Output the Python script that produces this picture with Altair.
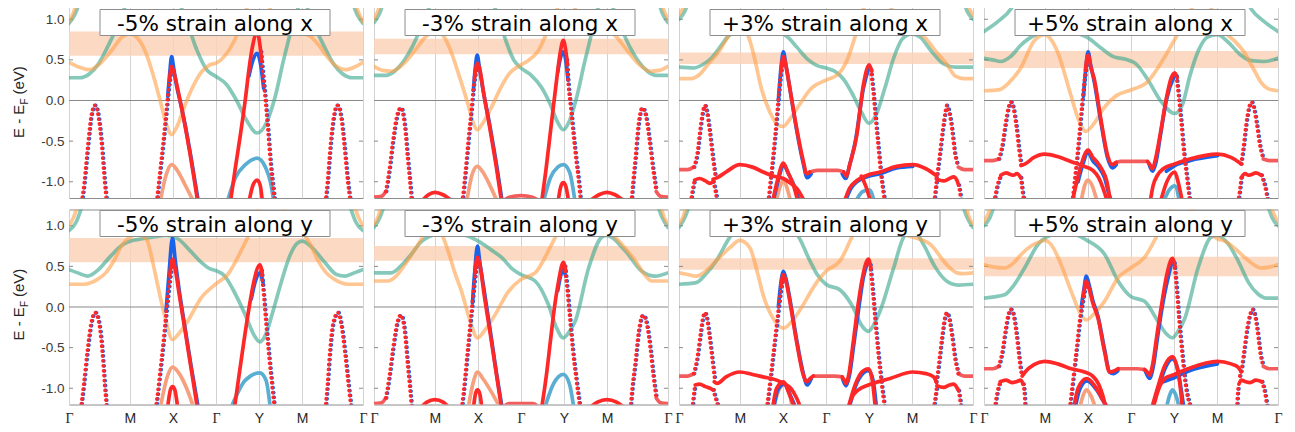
import altair as alt
import pandas as pd

# ---------------- tick labels / titles ----------------
F_TICKS = [0.0, 0.2071, 0.3536, 0.5, 0.6464, 0.7929, 1.0]
F_LABELS = ["Γ", "M", "X", "Γ", "Y", "M", "Γ"]
Y_TICKS = [-1.0, -0.5, 0.0, 0.5, 1.0]

TITLES = ["-5% strain along x", "-3% strain along x", "+3% strain along x", "+5% strain along x",
          "-5% strain along y", "-3% strain along y", "+3% strain along y", "+5% strain along y"]

BAND_LO = [0.55, 0.57, 0.45, 0.40, 0.55, 0.57, 0.46, 0.38]
BAND_HI = [0.85, 0.76, 0.59, 0.61, 0.85, 0.75, 0.60, 0.62]

# ---------------- band data: (style, [(path fraction, E - EF), ...]) ----------------
P1 = [
    ("T", [(0, 0.95), (0.02, 1.06), (0.04, 1.25)]),
    ("T", [(0.96, 1.25), (0.98, 1.06), (1.0, 0.95)]),
    ("O", [(0, 0.97), (0.015, 1.08), (0.03, 1.25)]),
    ("O", [(0.97, 1.25), (0.985, 1.08), (1.0, 0.97)]),
    ("T", [(0, 0.28), (0.035, 0.28), (0.07, 0.33), (0.10, 0.45), (0.13, 0.65), (0.16, 0.88), (0.185, 1.1), (0.20, 1.25)]),
    ("T", [(0.37, 1.25), (0.40, 0.98), (0.435, 0.62), (0.47, 0.37), (0.498, 0.30), (0.535, 0.20), (0.57, 0.0), (0.605, -0.25),
           (0.64, -0.40), (0.672, -0.27), (0.70, 0.03), (0.73, 0.50), (0.76, 0.92), (0.78, 1.15), (0.79, 1.25)]),
    ("T", [(0.80, 1.25), (0.815, 1.1), (0.84, 0.88), (0.87, 0.65), (0.90, 0.45), (0.93, 0.33), (0.965, 0.28), (1.0, 0.28)]),
    ("O", [(0, 0.47), (0.035, 0.41), (0.07, 0.38), (0.11, 0.47), (0.15, 0.64), (0.18, 0.78), (0.206, 0.82), (0.235, 0.76),
           (0.26, 0.60), (0.285, 0.33), (0.31, 0.0), (0.33, -0.28), (0.349, -0.42), (0.37, -0.30), (0.39, -0.10), (0.42, 0.16),
           (0.45, 0.35), (0.48, 0.44), (0.50, 0.46), (0.53, 0.55), (0.56, 0.72), (0.59, 0.98), (0.615, 1.25)]),
    ("O", [(0.67, 1.25), (0.70, 1.02), (0.74, 0.88), (0.793, 0.83), (0.82, 0.79), (0.85, 0.68), (0.88, 0.53), (0.91, 0.42),
           (0.94, 0.38), (0.97, 0.41), (1.0, 0.47)]),
    ("S", [(0.310, -1.25), (0.330, -0.92), (0.349, -0.79), (0.370, -0.87), (0.395, -1.04), (0.425, -1.25)]),
    ("LB", [(0.538, -1.25), (0.566, -0.95), (0.600, -0.79), (0.640, -0.71), (0.668, -0.82), (0.685, -1.0), (0.697, -1.25)]),
    ("B", [(0.336, 0.05), (0.343, 0.35), (0.349, 0.54), (0.356, 0.40), (0.365, 0.20), (0.38, -0.04), (0.395, -0.30), (0.415, -0.70), (0.44, -1.25)]),
    ("B", [(0.612, 0.30), (0.626, 0.50), (0.640, 0.58), (0.652, 0.44), (0.662, 0.15)]),
    ("R", [(0.612, -1.25), (0.626, -1.04), (0.640, -0.98), (0.650, -1.04), (0.658, -1.25)]),
    ("R", [(0.342, 0.25), (0.349, 0.42), (0.36, 0.30), (0.375, 0.05), (0.39, -0.22), (0.41, -0.62), (0.425, -0.95), (0.438, -1.25)]),
    ("R", [(0.549, -1.25), (0.565, -0.85), (0.583, -0.42), (0.60, 0.02), (0.612, 0.38), (0.625, 0.68), (0.640, 0.84), (0.648, 0.72), (0.655, 0.50)]),
    ("RD", [(0.043, -1.25), (0.052, -1.0), (0.064, -0.55), (0.075, -0.20), (0.088, -0.06), (0.100, -0.20), (0.111, -0.55), (0.121, -1.0), (0.128, -1.25)]),
    ("RD", [(0.872, -1.25), (0.879, -1.0), (0.889, -0.55), (0.900, -0.20), (0.912, -0.06), (0.925, -0.20), (0.936, -0.55), (0.948, -1.0), (0.957, -1.25)]),
    ("RD", [(0.298, -1.25), (0.310, -0.85), (0.322, -0.45), (0.333, -0.05), (0.342, 0.25), (0.349, 0.42)]),
    ("RD", [(0.652, 0.60), (0.660, 0.30), (0.668, 0.0), (0.676, -0.34), (0.686, -0.80), (0.695, -1.10), (0.700, -1.25)]),
]

P2 = [
    ("T", [(0, 0.96), (0.02, 1.08), (0.035, 1.25)]),
    ("T", [(0.965, 1.25), (0.98, 1.08), (1.0, 0.96)]),
    ("O", [(0, 1.0), (0.015, 1.12), (0.025, 1.25)]),
    ("O", [(0.975, 1.25), (0.985, 1.12), (1.0, 1.0)]),
    ("T", [(0, 0.31), (0.04, 0.31), (0.07, 0.36), (0.10, 0.48), (0.13, 0.66), (0.16, 0.90), (0.18, 1.08), (0.20, 1.25)]),
    ("T", [(0.40, 1.25), (0.425, 1.0), (0.45, 0.72), (0.475, 0.50), (0.50, 0.40), (0.535, 0.31), (0.57, 0.16), (0.60, -0.05),
           (0.625, -0.27), (0.644, -0.36), (0.665, -0.25), (0.69, 0.05), (0.715, 0.45), (0.745, 0.90), (0.77, 1.25)]),
    ("T", [(0.80, 1.25), (0.82, 1.08), (0.84, 0.90), (0.87, 0.66), (0.90, 0.48), (0.93, 0.36), (0.96, 0.31), (1.0, 0.31)]),
    ("O", [(0, 0.42), (0.03, 0.37), (0.06, 0.36), (0.10, 0.45), (0.14, 0.62), (0.18, 0.80), (0.207, 0.86), (0.235, 0.80),
           (0.26, 0.62), (0.29, 0.30), (0.32, -0.05), (0.337, -0.27), (0.351, -0.36), (0.37, -0.28), (0.40, -0.08), (0.43, 0.15),
           (0.46, 0.33), (0.49, 0.42), (0.52, 0.48), (0.56, 0.62), (0.59, 0.85), (0.62, 1.10), (0.635, 1.25)]),
    ("O", [(0.67, 1.25), (0.70, 1.02), (0.74, 0.90), (0.793, 0.86), (0.82, 0.80), (0.86, 0.62), (0.90, 0.45), (0.94, 0.36),
           (0.97, 0.37), (1.0, 0.42)]),
    ("S", [(0.315, -1.25), (0.333, -0.92), (0.351, -0.81), (0.37, -0.88), (0.395, -1.05), (0.42, -1.25)]),
    ("LB", [(0.576, -1.25), (0.60, -0.95), (0.625, -0.82), (0.644, -0.79), (0.665, -0.88), (0.684, -1.25)]),
    ("RL", [(0, -1.19), (0.025, -1.18), (0.04, -1.12)]),
    ("RL", [(0.96, -1.12), (0.975, -1.18), (1.0, -1.19)]),
    ("RL", [(0.435, -1.25), (0.46, -1.19), (0.50, -1.17), (0.54, -1.19), (0.565, -1.25)]),
    ("B", [(0.338, 0.12), (0.345, 0.42), (0.351, 0.56), (0.358, 0.42), (0.37, 0.15), (0.395, -0.33), (0.418, -0.82), (0.436, -1.25)]),
    ("B", [(0.625, 0.35), (0.636, 0.55), (0.644, 0.60), (0.652, 0.50), (0.66, 0.25)]),
    ("R", [(0.16, -1.25), (0.185, -1.16), (0.207, -1.13), (0.235, -1.16), (0.27, -1.25)]),
    ("R", [(0.729, -1.25), (0.765, -1.16), (0.792, -1.13), (0.82, -1.16), (0.855, -1.25)]),
    ("R", [(0.626, -1.25), (0.636, -1.05), (0.644, -1.01), (0.652, -1.05), (0.662, -1.25)]),
    ("R", [(0.342, 0.28), (0.351, 0.46), (0.36, 0.38), (0.372, 0.11), (0.394, -0.34), (0.417, -0.84), (0.434, -1.25)]),
    ("R", [(0.570, -1.25), (0.585, -0.85), (0.599, -0.42), (0.612, -0.02), (0.622, 0.28), (0.633, 0.58), (0.644, 0.74), (0.652, 0.62), (0.658, 0.45)]),
    ("RD", [(0.04, -1.12), (0.052, -0.85), (0.064, -0.50), (0.077, -0.20), (0.091, -0.09), (0.104, -0.30), (0.114, -0.70), (0.122, -1.0), (0.128, -1.25)]),
    ("RD", [(0.875, -1.25), (0.881, -1.0), (0.889, -0.70), (0.899, -0.30), (0.912, -0.09), (0.925, -0.20), (0.937, -0.50), (0.949, -0.85), (0.96, -1.12)]),
    ("RD", [(0.300, -1.25), (0.310, -0.90), (0.320, -0.51), (0.330, -0.15), (0.340, 0.22), (0.351, 0.46)]),
    ("RD", [(0.655, 0.50), (0.661, 0.19), (0.670, -0.12), (0.678, -0.42), (0.688, -0.75), (0.695, -0.96), (0.703, -1.25)]),
]

P3 = [
    ("T", [(0, 1.0), (0.02, 1.1), (0.035, 1.25)]),
    ("T", [(0.965, 1.25), (0.98, 1.1), (1.0, 1.0)]),
    ("O", [(0, 1.05), (0.015, 1.15), (0.025, 1.25)]),
    ("O", [(0.975, 1.25), (0.985, 1.15), (1.0, 1.05)]),
    ("T", [(0, 0.41), (0.05, 0.40), (0.08, 0.44), (0.11, 0.52), (0.14, 0.66), (0.17, 0.80), (0.207, 0.86), (0.25, 0.88),
           (0.30, 0.88), (0.34, 0.85), (0.37, 0.78), (0.40, 0.66), (0.44, 0.50), (0.47, 0.43), (0.50, 0.40), (0.53, 0.36),
           (0.56, 0.26), (0.59, 0.08), (0.62, -0.14), (0.646, -0.28), (0.67, -0.18), (0.70, 0.15), (0.73, 0.52), (0.76, 0.76),
           (0.793, 0.82), (0.82, 0.78), (0.86, 0.60), (0.90, 0.45), (0.94, 0.41), (1.0, 0.41)]),
    ("O", [(0, 0.27), (0.04, 0.27), (0.07, 0.32), (0.10, 0.45), (0.139, 0.62), (0.17, 0.80), (0.207, 0.90), (0.23, 0.84),
           (0.255, 0.55), (0.28, 0.15), (0.31, -0.15), (0.336, -0.30), (0.354, -0.32), (0.375, -0.24), (0.41, -0.05),
           (0.45, 0.15), (0.50, 0.25), (0.54, 0.32), (0.57, 0.48), (0.60, 0.80), (0.62, 1.05), (0.64, 1.25)]),
    ("O", [(0.70, 1.25), (0.74, 1.05), (0.79, 0.90), (0.84, 0.76), (0.87, 0.62), (0.91, 0.45), (0.94, 0.30), (0.97, 0.27), (1.0, 0.27)]),
    ("S", [(0.33, -1.25), (0.345, -1.05), (0.355, -0.98), (0.365, -1.05), (0.38, -1.25)]),
    ("LB", [(0.60, -1.25), (0.625, -1.12), (0.647, -1.10), (0.665, -1.25)]),
    ("B", [(0.32, -1.25), (0.337, -0.99), (0.355, -0.80), (0.375, -0.92), (0.395, -1.08), (0.41, -1.25)]),
    ("B", [(0.338, 0.0), (0.347, 0.40), (0.355, 0.60), (0.363, 0.45), (0.377, 0.15), (0.40, -0.36), (0.423, -0.78), (0.436, -0.95), (0.45, -0.90)]),
    ("B", [(0.555, -0.90), (0.567, -0.96), (0.58, -0.80), (0.60, -0.50), (0.627, 0.15), (0.647, 0.42)]),
    ("B", [(0.565, -1.25), (0.585, -1.08), (0.605, -1.0), (0.625, -0.96), (0.647, -0.93), (0.684, -0.90), (0.74, -0.83), (0.795, -0.81)]),
    ("RL", [(0, -0.85), (0.03, -0.85), (0.05, -0.82)]),
    ("RL", [(0.95, -0.82), (0.97, -0.85), (1.0, -0.85)]),
    ("RL", [(0.445, -0.88), (0.47, -0.86), (0.50, -0.86), (0.54, -0.86), (0.56, -0.88)]),
    ("R", [(0.116, -0.97), (0.13, -0.95), (0.16, -0.88), (0.207, -0.79), (0.25, -0.82), (0.286, -0.88), (0.32, -0.93),
           (0.355, -0.96), (0.38, -1.02), (0.40, -1.08), (0.428, -1.25)]),
    ("R", [(0.053, -0.98), (0.07, -0.96), (0.09, -0.99), (0.105, -1.02), (0.116, -1.0)]),
    ("R", [(0.877, -0.97), (0.90, -0.99), (0.92, -0.96), (0.934, -0.94), (0.945, -0.98), (0.951, -1.04)]),
    ("R", [(0.562, -1.25), (0.58, -1.08), (0.60, -1.0), (0.616, -0.96), (0.647, -0.91), (0.684, -0.88), (0.74, -0.81),
           (0.795, -0.79), (0.84, -0.84), (0.877, -0.93)]),
    ("R", [(0.62, -0.93), (0.635, -1.05), (0.652, -1.25)]),
    ("R", [(0.318, -1.25), (0.335, -0.98), (0.355, -0.77), (0.37, -0.88), (0.39, -1.05), (0.405, -1.25)]),
    ("R", [(0.346, 0.35), (0.355, 0.54), (0.365, 0.40), (0.377, 0.15), (0.40, -0.34), (0.423, -0.75), (0.434, -0.90), (0.445, -0.88)]),
    ("R", [(0.56, -0.88), (0.57, -0.93), (0.58, -0.80), (0.605, -0.42), (0.627, 0.19), (0.647, 0.44), (0.656, 0.36)]),
    ("RD", [(0.05, -0.82), (0.062, -0.65), (0.072, -0.35), (0.080, -0.15), (0.0875, -0.06), (0.095, -0.15), (0.103, -0.35),
            (0.113, -0.65), (0.12, -0.85), (0.125, -0.96)]),
    ("RD", [(0.040, -1.25), (0.046, -1.1), (0.053, -0.98)]),
    ("RD", [(0.116, -1.0), (0.124, -1.12), (0.13, -1.25)]),
    ("RD", [(0.875, -0.96), (0.88, -0.85), (0.887, -0.65), (0.897, -0.35), (0.905, -0.15), (0.911, -0.06), (0.919, -0.15),
            (0.928, -0.35), (0.938, -0.65), (0.95, -0.82)]),
    ("RD", [(0.868, -1.25), (0.872, -1.1), (0.877, -0.97)]),
    ("RD", [(0.951, -1.04), (0.956, -1.15), (0.96, -1.25)]),
    ("RD", [(0.303, -1.25), (0.315, -0.85), (0.326, -0.45), (0.336, -0.05), (0.345, 0.30), (0.355, 0.54)]),
    ("RD", [(0.652, 0.38), (0.66, 0.12), (0.668, -0.2), (0.677, -0.55), (0.688, -0.95), (0.70, -1.25)]),
]

P4 = [
    ("T", [(0, 0.85), (0.05, 0.98), (0.09, 1.12), (0.11, 1.25)]),
    ("T", [(0.89, 1.25), (0.91, 1.12), (0.95, 0.98), (1.0, 0.85)]),
    ("T", [(0, 0.52), (0.03, 0.50), (0.057, 0.48), (0.09, 0.54), (0.125, 0.68), (0.17, 0.80), (0.207, 0.84), (0.25, 0.86),
           (0.30, 0.84), (0.35, 0.78), (0.40, 0.64), (0.44, 0.54), (0.478, 0.51), (0.52, 0.44), (0.56, 0.24), (0.60, 0.0),
           (0.649, -0.16), (0.675, -0.05), (0.70, 0.30), (0.73, 0.62), (0.76, 0.78), (0.794, 0.81), (0.83, 0.72), (0.87, 0.57),
           (0.91, 0.49), (0.95, 0.48), (1.0, 0.52)]),
    ("O", [(0, 0.12), (0.05, 0.13), (0.085, 0.22), (0.125, 0.40), (0.17, 0.73), (0.206, 0.81), (0.23, 0.74), (0.25, 0.60),
           (0.295, 0.07), (0.32, -0.22), (0.346, -0.38), (0.375, -0.28), (0.408, -0.09), (0.45, 0.06), (0.499, 0.13),
           (0.556, 0.23), (0.612, 0.52), (0.658, 0.81), (0.69, 1.0), (0.72, 1.25)]),
    ("O", [(0.76, 1.25), (0.79, 1.0), (0.816, 0.85), (0.85, 0.74), (0.884, 0.60), (0.915, 0.40), (0.941, 0.23), (0.97, 0.14), (1.0, 0.12)]),
    ("S", [(0.33, -1.25), (0.342, -1.05), (0.354, -0.98), (0.368, -1.05), (0.385, -1.25)]),
    ("LB", [(0.61, -1.25), (0.63, -1.1), (0.649, -1.05), (0.665, -1.25)]),
    ("B", [(0.32, -1.0), (0.335, -0.80), (0.354, -0.64), (0.37, -0.74), (0.39, -0.82), (0.41, -0.95), (0.425, -1.15), (0.435, -1.25)]),
    ("B", [(0.338, 0.05), (0.347, 0.42), (0.354, 0.60), (0.362, 0.45), (0.374, 0.25), (0.397, -0.25), (0.42, -0.70), (0.437, -0.83), (0.45, -0.79)]),
    ("B", [(0.56, -0.77), (0.573, -0.87), (0.585, -0.76), (0.60, -0.43), (0.62, 0.0), (0.649, 0.32)]),
    ("B", [(0.62, -0.87), (0.649, -0.80), (0.70, -0.74), (0.794, -0.68)]),
    ("RL", [(0, -0.74), (0.03, -0.74), (0.05, -0.72)]),
    ("RL", [(0.95, -0.72), (0.97, -0.74), (1.0, -0.74)]),
    ("RL", [(0.44, -0.78), (0.465, -0.75), (0.51, -0.75), (0.556, -0.75)]),
    ("R", [(0.126, -0.80), (0.14, -0.78), (0.17, -0.70), (0.206, -0.66), (0.25, -0.69), (0.295, -0.75), (0.34, -0.81),
           (0.37, -0.86), (0.39, -0.95), (0.405, -1.08), (0.42, -1.25)]),
    ("R", [(0.057, -0.92), (0.075, -0.89), (0.09, -0.91), (0.10, -0.92), (0.112, -0.90), (0.125, -0.95)]),
    ("R", [(0.875, -0.95), (0.888, -0.90), (0.90, -0.92), (0.91, -0.91), (0.925, -0.89), (0.943, -0.92)]),
    ("R", [(0.565, -1.25), (0.575, -1.05), (0.59, -0.92), (0.61, -0.84), (0.649, -0.78), (0.70, -0.72), (0.794, -0.66),
           (0.84, -0.70), (0.875, -0.78)]),
    ("R", [(0.60, -1.25), (0.622, -1.0), (0.649, -0.88), (0.66, -1.0), (0.675, -1.25)]),
    ("R", [(0.30, -1.25), (0.317, -0.98), (0.33, -0.80), (0.354, -0.61), (0.37, -0.70), (0.385, -0.76), (0.40, -0.84), (0.418, -1.0), (0.43, -1.25)]),
    ("R", [(0.345, 0.38), (0.354, 0.56), (0.364, 0.40), (0.374, 0.28), (0.397, -0.22), (0.42, -0.67), (0.437, -0.79), (0.45, -0.76)]),
    ("R", [(0.556, -0.75), (0.566, -0.80), (0.573, -0.84), (0.582, -0.74), (0.60, -0.40), (0.62, 0.02), (0.637, 0.28),
           (0.649, 0.34), (0.657, 0.28)]),
    ("RD", [(0.05, -0.72), (0.062, -0.55), (0.073, -0.28), (0.082, -0.10), (0.091, -0.02), (0.100, -0.10), (0.109, -0.30),
            (0.118, -0.58), (0.126, -0.80)]),
    ("RD", [(0.034, -1.25), (0.045, -1.05), (0.057, -0.92)]),
    ("RD", [(0.125, -0.95), (0.13, -1.1), (0.136, -1.25)]),
    ("RD", [(0.874, -0.78), (0.882, -0.58), (0.891, -0.30), (0.900, -0.10), (0.910, -0.02), (0.918, -0.10), (0.927, -0.28),
            (0.938, -0.55), (0.95, -0.72)]),
    ("RD", [(0.864, -1.25), (0.87, -1.1), (0.875, -0.95)]),
    ("RD", [(0.943, -0.92), (0.955, -1.05), (0.966, -1.25)]),
    ("RD", [(0.300, -1.25), (0.312, -0.85), (0.323, -0.45), (0.333, -0.05), (0.343, 0.30), (0.354, 0.56)]),
    ("RD", [(0.654, 0.30), (0.662, 0.05), (0.670, -0.25), (0.68, -0.65), (0.69, -0.95), (0.70, -1.25)]),
]

P5 = [
    ("T", [(0, 0.94), (0.025, 1.05), (0.045, 1.25)]),
    ("T", [(0.955, 1.25), (0.975, 1.05), (1.0, 0.94)]),
    ("O", [(0, 1.0), (0.015, 1.1), (0.03, 1.25)]),
    ("O", [(0.97, 1.25), (0.985, 1.1), (1.0, 1.0)]),
    ("T", [(0, 0.46), (0.03, 0.42), (0.063, 0.38), (0.10, 0.46), (0.14, 0.62), (0.18, 0.76), (0.207, 0.81), (0.25, 0.84),
           (0.30, 0.87), (0.33, 0.88), (0.37, 0.84), (0.41, 0.70), (0.45, 0.55), (0.48, 0.47), (0.498, 0.45), (0.53, 0.38),
           (0.56, 0.20), (0.60, -0.10), (0.63, -0.35), (0.649, -0.43), (0.67, -0.33), (0.69, -0.10), (0.72, 0.28), (0.75, 0.62),
           (0.775, 0.78), (0.793, 0.81), (0.83, 0.72), (0.87, 0.55), (0.91, 0.40), (0.94, 0.38), (0.97, 0.42), (1.0, 0.46)]),
    ("O", [(0, 0.28), (0.05, 0.28), (0.097, 0.34), (0.125, 0.42), (0.153, 0.57), (0.18, 0.76), (0.207, 0.86), (0.235, 0.90),
           (0.255, 0.86), (0.267, 0.81), (0.285, 0.55), (0.301, 0.28), (0.325, -0.10), (0.352, -0.40), (0.375, -0.32),
           (0.403, -0.18), (0.449, 0.11), (0.498, 0.28), (0.54, 0.40), (0.585, 0.69), (0.63, 1.06), (0.645, 1.25)]),
    ("O", [(0.72, 1.25), (0.76, 1.05), (0.793, 0.92), (0.82, 0.78), (0.847, 0.57), (0.875, 0.42), (0.903, 0.34), (0.949, 0.28), (1.0, 0.28)]),
    ("S", [(0.31, -1.25), (0.335, -0.85), (0.352, -0.74), (0.375, -0.82), (0.40, -1.0), (0.425, -1.25)]),
    ("LB", [(0.55, -1.25), (0.60, -0.90), (0.649, -0.81), (0.67, -0.90), (0.685, -1.25)]),
    ("B", [(0.330, -0.05), (0.340, 0.40), (0.352, 0.85), (0.362, 0.55), (0.375, 0.20), (0.393, -0.22), (0.415, -0.72), (0.44, -1.25)]),
    ("B", [(0.62, 0.10), (0.635, 0.33), (0.649, 0.42), (0.66, 0.30)]),
    ("R", [(0.335, -1.25), (0.345, -1.02), (0.352, -0.98), (0.36, -1.02), (0.37, -1.25)]),
    ("R", [(0.343, 0.40), (0.352, 0.59), (0.362, 0.45), (0.375, 0.15), (0.393, -0.25), (0.415, -0.75), (0.437, -1.25)]),
    ("R", [(0.5625, -1.25), (0.578, -0.85), (0.595, -0.42), (0.612, -0.02), (0.628, 0.30), (0.649, 0.52), (0.658, 0.40)]),
    ("RD", [(0.040, -1.25), (0.050, -0.95), (0.062, -0.55), (0.075, -0.20), (0.089, -0.07), (0.102, -0.20), (0.113, -0.55), (0.121, -0.95), (0.128, -1.25)]),
    ("RD", [(0.872, -1.25), (0.879, -0.95), (0.887, -0.55), (0.898, -0.20), (0.915, -0.07), (0.925, -0.20), (0.938, -0.55), (0.950, -0.95), (0.96, -1.25)]),
    ("RD", [(0.295, -1.25), (0.308, -0.85), (0.320, -0.45), (0.331, -0.05), (0.342, 0.32), (0.352, 0.59)]),
    ("RD", [(0.654, 0.45), (0.662, 0.15), (0.670, -0.2), (0.680, -0.6), (0.690, -0.95), (0.699, -1.25)]),
]

P6 = [
    ("T", [(0, 0.98), (0.02, 1.1), (0.035, 1.25)]),
    ("T", [(0.965, 1.25), (0.98, 1.1), (1.0, 0.98)]),
    ("O", [(0, 1.02), (0.015, 1.12), (0.025, 1.25)]),
    ("O", [(0.975, 1.25), (0.985, 1.12), (1.0, 1.02)]),
    ("T", [(0, 0.42), (0.059, 0.42), (0.09, 0.50), (0.127, 0.65), (0.16, 0.80), (0.184, 0.86), (0.207, 0.89), (0.25, 0.90),
           (0.30, 0.89), (0.35, 0.82), (0.40, 0.70), (0.434, 0.61), (0.47, 0.47), (0.50, 0.40), (0.548, 0.32), (0.593, 0.03),
           (0.62, -0.25), (0.644, -0.38), (0.665, -0.30), (0.684, -0.18), (0.73, 0.48), (0.775, 0.86), (0.792, 0.88),
           (0.855, 0.69), (0.911, 0.44), (0.957, 0.38), (1.0, 0.42)]),
    ("O", [(0, 0.32), (0.048, 0.32), (0.075, 0.38), (0.105, 0.52), (0.15, 0.77), (0.184, 0.96), (0.207, 1.0), (0.23, 0.90),
           (0.252, 0.69), (0.275, 0.42), (0.298, 0.19), (0.325, -0.15), (0.352, -0.38), (0.38, -0.27), (0.411, -0.10),
           (0.457, 0.19), (0.50, 0.34), (0.548, 0.42), (0.593, 0.69), (0.639, 1.06), (0.655, 1.25)]),
    ("O", [(0.73, 1.25), (0.752, 1.06), (0.82, 0.86), (0.855, 0.72), (0.889, 0.57), (0.92, 0.40), (0.945, 0.32), (1.0, 0.32)]),
    ("S", [(0.32, -1.25), (0.338, -0.92), (0.352, -0.80), (0.37, -0.88), (0.40, -1.05), (0.43, -1.25)]),
    ("LB", [(0.58, -1.25), (0.61, -0.95), (0.644, -0.83), (0.665, -0.95), (0.68, -1.25)]),
    ("RL", [(0, -1.19), (0.025, -1.18), (0.04, -1.12)]),
    ("RL", [(0.96, -1.12), (0.975, -1.18), (1.0, -1.19)]),
    ("RL", [(0.435, -1.25), (0.46, -1.19), (0.50, -1.19), (0.54, -1.19), (0.565, -1.25)]),
    ("B", [(0.335, 0.05), (0.343, 0.45), (0.352, 0.75), (0.36, 0.55), (0.374, 0.22), (0.395, -0.28), (0.416, -0.80), (0.436, -1.25)]),
    ("B", [(0.625, 0.20), (0.636, 0.40), (0.644, 0.46), (0.652, 0.38)]),
    ("R", [(0.156, -1.25), (0.18, -1.17), (0.207, -1.14), (0.235, -1.17), (0.258, -1.25)]),
    ("R", [(0.73, -1.25), (0.76, -1.17), (0.792, -1.14), (0.825, -1.17), (0.855, -1.25)]),
    ("R", [(0.338, -1.25), (0.345, -1.07), (0.352, -1.02), (0.36, -1.07), (0.367, -1.25)]),
    ("R", [(0.343, 0.42), (0.352, 0.61), (0.362, 0.48), (0.374, 0.17), (0.395, -0.32), (0.416, -0.82), (0.434, -1.25)]),
    ("R", [(0.570, -1.25), (0.586, -0.85), (0.600, -0.42), (0.614, 0.0), (0.628, 0.32), (0.644, 0.55), (0.652, 0.45)]),
    ("RD", [(0.04, -1.12), (0.052, -0.85), (0.064, -0.52), (0.077, -0.22), (0.091, -0.10), (0.104, -0.30), (0.114, -0.70), (0.122, -1.0), (0.128, -1.25)]),
    ("RD", [(0.872, -1.25), (0.878, -1.0), (0.888, -0.70), (0.900, -0.30), (0.915, -0.10), (0.928, -0.22), (0.940, -0.52), (0.950, -0.85), (0.96, -1.12)]),
    ("RD", [(0.298, -1.25), (0.309, -0.88), (0.319, -0.50), (0.330, -0.10), (0.341, 0.30), (0.352, 0.61)]),
    ("RD", [(0.649, 0.50), (0.657, 0.22), (0.665, -0.10), (0.675, -0.50), (0.688, -0.90), (0.701, -1.25)]),
]

P7 = [
    ("T", [(0, 0.98), (0.02, 1.1), (0.035, 1.25)]),
    ("T", [(0.965, 1.25), (0.98, 1.1), (1.0, 0.98)]),
    ("O", [(0, 1.02), (0.015, 1.12), (0.025, 1.25)]),
    ("O", [(0.975, 1.25), (0.985, 1.12), (1.0, 1.02)]),
    ("T", [(0, 0.28), (0.059, 0.30), (0.09, 0.40), (0.127, 0.57), (0.173, 0.86), (0.20, 0.98), (0.25, 1.05), (0.30, 1.05),
           (0.35, 1.0), (0.40, 0.90), (0.445, 0.57), (0.47, 0.40), (0.50, 0.28), (0.548, 0.21), (0.593, -0.01), (0.62, -0.22),
           (0.644, -0.30), (0.665, -0.2), (0.684, -0.05), (0.73, 0.48), (0.764, 0.86), (0.795, 0.95), (0.83, 0.78), (0.87, 0.50),
           (0.91, 0.32), (0.95, 0.27), (1.0, 0.28)]),
    ("O", [(0, 0.42), (0.03, 0.40), (0.059, 0.38), (0.09, 0.44), (0.127, 0.57), (0.173, 0.73), (0.207, 0.82), (0.241, 0.73),
           (0.265, 0.45), (0.286, 0.15), (0.32, -0.14), (0.355, -0.26), (0.39, -0.15), (0.423, 0.03), (0.45, 0.20), (0.48, 0.36),
           (0.50, 0.44), (0.548, 0.57), (0.593, 0.90), (0.62, 1.1), (0.64, 1.25)]),
    ("O", [(0.69, 1.25), (0.718, 1.0), (0.76, 0.90), (0.795, 0.86), (0.855, 0.77), (0.911, 0.52), (0.945, 0.42), (0.968, 0.41), (1.0, 0.42)]),
    ("S", [(0.32, -1.25), (0.343, -1.0), (0.36, -0.95), (0.372, -1.0), (0.385, -1.25)]),
    ("B", [(0.322, -1.25), (0.336, -1.02), (0.357, -0.95), (0.38, -1.1), (0.398, -1.25)]),
    ("B", [(0.578, -1.25), (0.60, -0.98), (0.625, -0.82), (0.644, -0.78), (0.66, -0.90), (0.672, -1.25)]),
    ("B", [(0.338, 0.0), (0.346, 0.28), (0.355, 0.44), (0.365, 0.33), (0.377, 0.10), (0.40, -0.40), (0.423, -0.82), (0.436, -0.96), (0.45, -0.88)]),
    ("B", [(0.556, -0.88), (0.568, -0.97), (0.58, -0.84), (0.595, -0.45), (0.612, 0.0), (0.628, 0.38), (0.644, 0.57)]),
    ("RL", [(0, -0.85), (0.03, -0.85), (0.05, -0.82)]),
    ("RL", [(0.95, -0.82), (0.97, -0.85), (1.0, -0.85)]),
    ("RL", [(0.457, -0.85), (0.49, -0.85), (0.53, -0.85), (0.555, -0.86)]),
    ("R", [(0.12, -0.92), (0.13, -0.94), (0.16, -0.86), (0.207, -0.80), (0.25, -0.83), (0.286, -0.86), (0.332, -0.90),
           (0.355, -0.94), (0.38, -1.0), (0.40, -1.12), (0.415, -1.25)]),
    ("R", [(0.055, -0.96), (0.07, -0.95), (0.09, -0.98), (0.105, -1.0), (0.116, -1.02)]),
    ("R", [(0.877, -0.97), (0.90, -0.99), (0.92, -0.96), (0.934, -0.95), (0.945, -0.99), (0.951, -1.03)]),
    ("R", [(0.575, -1.25), (0.59, -1.1), (0.61, -1.02), (0.644, -0.96), (0.718, -0.88), (0.795, -0.80), (0.84, -0.82),
           (0.866, -0.86), (0.876, -0.93)]),
    ("R", [(0.575, -1.25), (0.60, -0.95), (0.622, -0.80), (0.644, -0.76), (0.655, -0.85), (0.668, -1.25)]),
    ("R", [(0.318, -1.25), (0.332, -1.0), (0.355, -0.92), (0.377, -1.09), (0.394, -1.25)]),
    ("R", [(0.346, 0.25), (0.355, 0.40), (0.365, 0.30), (0.377, 0.07), (0.40, -0.43), (0.423, -0.84), (0.434, -0.92), (0.446, -0.88), (0.457, -0.85)]),
    ("R", [(0.555, -0.86), (0.562, -0.90), (0.568, -0.94), (0.578, -0.82), (0.592, -0.45), (0.608, 0.0), (0.625, 0.38),
           (0.644, 0.59), (0.653, 0.48)]),
    ("RD", [(0.05, -0.82), (0.062, -0.62), (0.072, -0.35), (0.080, -0.15), (0.0875, -0.07), (0.095, -0.15), (0.103, -0.35),
            (0.112, -0.62), (0.12, -0.85), (0.123, -0.92)]),
    ("RD", [(0.045, -1.25), (0.049, -1.1), (0.055, -0.96)]),
    ("RD", [(0.116, -1.02), (0.124, -1.12), (0.135, -1.25)]),
    ("RD", [(0.874, -0.92), (0.878, -0.85), (0.886, -0.62), (0.895, -0.35), (0.903, -0.15), (0.911, -0.07), (0.919, -0.15),
            (0.928, -0.35), (0.938, -0.62), (0.95, -0.82)]),
    ("RD", [(0.866, -1.25), (0.872, -1.1), (0.877, -0.97)]),
    ("RD", [(0.951, -1.03), (0.956, -1.15), (0.96, -1.25)]),
    ("RD", [(0.298, -1.25), (0.31, -0.90), (0.322, -0.52), (0.334, -0.15), (0.345, 0.18), (0.355, 0.40)]),
    ("RD", [(0.65, 0.52), (0.658, 0.22), (0.666, -0.12), (0.676, -0.52), (0.688, -0.92), (0.70, -1.25)]),
]

P8 = [
    ("T", [(0, 1.0), (0.02, 1.1), (0.035, 1.25)]),
    ("T", [(0.965, 1.25), (0.98, 1.1), (1.0, 1.0)]),
    ("O", [(0, 1.05), (0.015, 1.15), (0.025, 1.25)]),
    ("O", [(0.975, 1.25), (0.985, 1.15), (1.0, 1.05)]),
    ("T", [(0, 0.11), (0.07, 0.15), (0.10, 0.26), (0.138, 0.48), (0.184, 0.77), (0.212, 0.86), (0.25, 0.90), (0.30, 0.90),
           (0.35, 0.82), (0.41, 0.65), (0.456, 0.32), (0.499, 0.13), (0.546, 0.07), (0.592, -0.18), (0.62, -0.33), (0.641, -0.38),
           (0.66, -0.30), (0.683, -0.14), (0.728, 0.48), (0.773, 0.86), (0.794, 0.88), (0.83, 0.78), (0.864, 0.57), (0.90, 0.30),
           (0.932, 0.16), (0.96, 0.11), (1.0, 0.11)]),
    ("O", [(0, 0.52), (0.035, 0.49), (0.07, 0.48), (0.10, 0.54), (0.127, 0.65), (0.16, 0.75), (0.195, 0.81), (0.206, 0.82),
           (0.23, 0.76), (0.252, 0.61), (0.297, 0.19), (0.325, -0.06), (0.348, -0.16), (0.375, -0.08), (0.41, 0.07),
           (0.456, 0.36), (0.499, 0.48), (0.546, 0.61), (0.592, 0.90), (0.62, 1.08), (0.64, 1.25)]),
    ("O", [(0.70, 1.25), (0.75, 0.98), (0.794, 0.84), (0.819, 0.81), (0.853, 0.72), (0.887, 0.61), (0.943, 0.48), (0.97, 0.49), (1.0, 0.52)]),
    ("S", [(0.325, -1.25), (0.338, -1.08), (0.348, -1.02), (0.362, -1.08), (0.38, -1.25)]),
    ("LB", [(0.62, -1.25), (0.632, -1.08), (0.641, -1.02), (0.652, -1.08), (0.665, -1.25)]),
    ("B", [(0.31, -1.25), (0.325, -1.02), (0.35, -0.91), (0.385, -1.03), (0.41, -1.18), (0.425, -1.25)]),
    ("B", [(0.573, -1.25), (0.593, -1.0), (0.618, -0.74), (0.641, -0.64), (0.658, -0.75), (0.672, -1.05), (0.68, -1.25)]),
    ("B", [(0.331, 0.0), (0.34, 0.22), (0.348, 0.38), (0.357, 0.28), (0.37, 0.08), (0.388, -0.12), (0.41, -0.52), (0.427, -0.80), (0.44, -0.82), (0.456, -0.78)]),
    ("B", [(0.548, -0.78), (0.563, -0.88), (0.575, -0.75), (0.59, -0.38), (0.607, 0.02), (0.641, 0.58)]),
    ("B", [(0.60, -0.93), (0.641, -0.88), (0.694, -0.79), (0.794, -0.70)]),
    ("RL", [(0, -0.76), (0.03, -0.76), (0.05, -0.73)]),
    ("RL", [(0.95, -0.73), (0.97, -0.76), (1.0, -0.76)]),
    ("RL", [(0.456, -0.76), (0.49, -0.76), (0.52, -0.76), (0.546, -0.77)]),
    ("R", [(0.13, -0.85), (0.14, -0.80), (0.17, -0.71), (0.206, -0.67), (0.25, -0.70), (0.297, -0.76), (0.342, -0.80),
           (0.37, -0.85), (0.39, -0.95), (0.405, -1.1), (0.415, -1.25)]),
    ("R", [(0.055, -0.92), (0.075, -0.90), (0.095, -0.93), (0.11, -0.92), (0.125, -0.90), (0.133, -0.95)]),
    ("R", [(0.867, -0.95), (0.875, -0.90), (0.89, -0.92), (0.905, -0.93), (0.925, -0.90), (0.945, -0.92)]),
    ("R", [(0.575, -1.25), (0.59, -1.05), (0.615, -0.88), (0.641, -0.84), (0.694, -0.76), (0.794, -0.67), (0.84, -0.70),
           (0.864, -0.74), (0.875, -0.80)]),
    ("R", [(0.57, -1.25), (0.59, -1.0), (0.615, -0.72), (0.641, -0.61), (0.655, -0.72), (0.668, -1.0), (0.675, -1.25)]),
    ("R", [(0.305, -1.25), (0.32, -1.0), (0.348, -0.88), (0.382, -1.0), (0.405, -1.15), (0.42, -1.25)]),
    ("R", [(0.339, 0.15), (0.348, 0.32), (0.358, 0.22), (0.37, 0.05), (0.388, -0.14), (0.41, -0.55), (0.427, -0.80), (0.44, -0.79), (0.456, -0.76)]),
    ("R", [(0.546, -0.77), (0.555, -0.80), (0.563, -0.84), (0.573, -0.72), (0.588, -0.35), (0.605, 0.05), (0.622, 0.40),
           (0.641, 0.60), (0.65, 0.50)]),
    ("RD", [(0.05, -0.73), (0.062, -0.55), (0.073, -0.28), (0.082, -0.10), (0.091, -0.03), (0.100, -0.10), (0.109, -0.30),
            (0.118, -0.58), (0.125, -0.78), (0.13, -0.85)]),
    ("RD", [(0.036, -1.25), (0.045, -1.05), (0.055, -0.92)]),
    ("RD", [(0.133, -0.95), (0.138, -1.1), (0.14, -1.25)]),
    ("RD", [(0.87, -0.85), (0.875, -0.78), (0.884, -0.55), (0.894, -0.28), (0.904, -0.10), (0.913, -0.03), (0.921, -0.10),
            (0.93, -0.30), (0.94, -0.58), (0.95, -0.73)]),
    ("RD", [(0.86, -1.25), (0.862, -1.1), (0.867, -0.95)]),
    ("RD", [(0.945, -0.92), (0.955, -1.05), (0.964, -1.25)]),
    ("RD", [(0.291, -1.25), (0.303, -0.88), (0.315, -0.50), (0.327, -0.12), (0.338, 0.12), (0.348, 0.32)]),
    ("RD", [(0.647, 0.54), (0.655, 0.22), (0.663, -0.15), (0.673, -0.55), (0.685, -0.95), (0.704, -1.25)]),
]

PANELS = [P1, P2, P3, P4, P5, P6, P7, P8]

# ---------------- tables built from the arrays ----------------
rows = []
for p, curves in enumerate(PANELS):
    for c, (s, pts) in enumerate(curves):
        for i, (f, e) in enumerate(pts):
            rows.append({"p": p, "c": c, "s": s, "i": i, "f": f, "E": e})
lines = pd.DataFrame(rows)
bands = pd.DataFrame({"p": list(range(8)), "lo": BAND_LO, "hi": BAND_HI})
zero = pd.DataFrame({"E": [0.0]})
ytk = pd.DataFrame({"E": [v for v in Y_TICKS if v != 0.0]})
one = pd.DataFrame({"k": [0]})

# ---------------- styling ----------------
W, H = 294, 195
XS = alt.Scale(domain=[0, 1], nice=False, zero=False)
YS = alt.Scale(domain=[-1.2, 1.2], nice=False, zero=False)

mids = [(F_TICKS[j] + F_TICKS[j + 1]) / 2 for j in range(len(F_TICKS) - 1)]
XEXPR = "".join(f"datum.value < {m:.4f} ? '{l}' : " for m, l in zip(mids, F_LABELS[:-1])) + f"'{F_LABELS[-1]}'"
XFONT = {"condition": {"test": "datum.value < 0.1 || (datum.value > 0.45 && datum.value < 0.55) || datum.value > 0.9",
                       "value": "Liberation Serif"}, "value": "Liberation Sans"}
YEXPR = "datum.value < 0 ? '-' + format(-datum.value, '.1f') : format(datum.value, '.1f')"

LW = 3.7
STYLE = {
    "T": dict(color="#36a58c", strokeOpacity=0.6, strokeWidth=LW),
    "O": dict(color="#ffa048", strokeOpacity=0.6, strokeWidth=LW),
    "S": dict(color="#f6a07e", strokeWidth=LW),
    "LB": dict(color="#5aaed2", strokeWidth=LW),
    "B": dict(color="#1a62ea", strokeWidth=LW),
    "BD": dict(color="#1a62ea", strokeWidth=LW, strokeDash=[0.1, 4.8], xOffset=0.9),
    "RL": dict(color="#f35c5c", strokeWidth=LW),
    "R": dict(color="#ff2828", strokeWidth=LW),
    "RD": dict(color="#ff2828", strokeWidth=LW, strokeDash=[0.1, 4.8]),
}
ORDER = ["T", "O", "S", "LB", "B", "BD", "RL", "R", "RD"]


def panel(p, col, row):
    xax = alt.Axis(values=F_TICKS, labels=(row == 1), labelExpr=XEXPR, labelFont=XFONT, labelFontSize=14,
                   labelColor="#262626", labelPadding=7, labelFlush=False, grid=True, gridColor="#d2d2d2",
                   gridWidth=1, ticks=False, domain=False, title=None)
    yax = alt.Axis(values=Y_TICKS, labels=(col == 0), labelExpr=YEXPR, labelFont="Liberation Sans",
                   labelFontSize=13.5, labelColor="#3a3a3a", labelPadding=5, grid=False, ticks=False,
                   domain=False, title=None)

    def X(fld):
        return alt.X(fld, type="quantitative", scale=XS, axis=xax)

    def Y(fld):
        return alt.Y(fld, type="quantitative", scale=YS, axis=yax)

    layers = []
    layers.append(alt.Chart(bands).transform_filter(alt.datum.p == p)
                  .mark_rect(fill="#fcd2b8", opacity=0.85)
                  .encode(x=alt.value(0), x2=alt.value(W), y=Y("lo"), y2="hi"))
    layers.append(alt.Chart(zero).mark_rule(color="#8a8a8a", strokeWidth=1.2).encode(y=Y("E")))
    layers.append(alt.Chart(ytk).mark_rule(color="#8a8a8a", strokeWidth=1)
                  .encode(y=Y("E"), x=alt.value(0), x2=alt.value(4)))
    layers.append(alt.Chart(ytk).mark_rule(color="#8a8a8a", strokeWidth=1)
                  .encode(y=Y("E"), x=alt.value(W - 4), x2=alt.value(W)))

    present = set(lines.loc[lines.p == p, "s"])
    for s in ORDER:
        src = "RD" if s == "BD" else s
        if src not in present:
            continue
        props = dict(STYLE[s])
        layers.append(alt.Chart(lines)
                      .transform_filter((alt.datum.p == p) & (alt.datum.s == src))
                      .mark_line(interpolate="monotone", clip=True, strokeCap="round", strokeJoin="round", **props)
                      .encode(x=X("f"), y=Y("E"), detail="c:N", order="i:Q"))

    # title box (top row sits a little lower so nothing is cut at the page edge)
    if row == 0:
        by0, by1, tb = 6.5, 32.5, 28.0
    else:
        by0, by1, tb = 1.0, 27.0, 22.5
    layers.append(alt.Chart(one).mark_rect(fill="white", stroke="#8c8c8c", strokeWidth=1)
                  .encode(x=alt.value(31), x2=alt.value(261), y=alt.value(by0), y2=alt.value(by1)))
    layers.append(alt.Chart(one).mark_text(text=TITLES[p], font="DejaVu Sans", fontSize=21.5, color="black",
                                           align="center", baseline="alphabetic")
                  .encode(x=alt.value(146), y=alt.value(tb)))

    if col == 0:
        y0 = 135 if row == 0 else 131
        tkw = dict(angle=270, align="left", baseline="alphabetic", font="Liberation Sans", color="#262626")
        layers.append(alt.Chart(one).mark_text(text="E - E", fontSize=15, **tkw)
                      .encode(x=alt.value(-45), y=alt.value(y0)))
        layers.append(alt.Chart(one).mark_text(text="F", fontSize=10, **tkw)
                      .encode(x=alt.value(-41), y=alt.value(y0 - 33.5)))
        layers.append(alt.Chart(one).mark_text(text="(eV)", fontSize=15, **tkw)
                      .encode(x=alt.value(-45), y=alt.value(y0 - 43.5)))

    return alt.layer(*layers).properties(width=W, height=H)


row0 = alt.hconcat(*[panel(p, p, 0) for p in range(4)], spacing=11, bounds="flush")
row1 = alt.hconcat(*[panel(p + 4, p, 1) for p in range(4)], spacing=11, bounds="flush")

chart = (alt.vconcat(row0, row1, spacing=9.5)
         .properties(padding={"left": 3, "top": -6, "right": 0, "bottom": 0}, background="white")
         .configure_view(stroke="#8c8c8c", strokeWidth=1))

chart.save("out.html", embed_options={"renderer": "svg", "actions": False})
